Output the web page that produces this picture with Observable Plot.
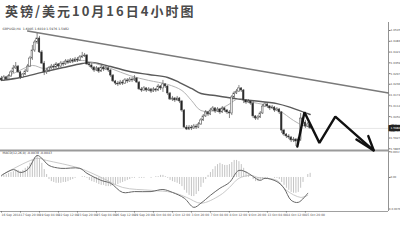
<!DOCTYPE html>
<html>
<head>
<meta charset="utf-8">
<script src="https://cdn.jsdelivr.net/npm/d3@7"></script>
<script src="https://cdn.jsdelivr.net/npm/@observablehq/plot@0.6"></script>
<style>
  html, body { margin: 0; padding: 0; background: #fff; }
  #chart { position: relative; width: 400px; height: 246px; overflow: hidden; background: #fff; }
  #title { position: absolute; left: 5px; top: 0; height: 22px; line-height: 22px;
           font-family: "Noto Sans CJK SC"; font-size: 13px; font-weight: 700;
           letter-spacing: 2px; color: #4a4a4a; white-space: nowrap; }
  #price { position: absolute; left: 0; top: 22px; z-index: 2; }
  #macd { position: absolute; left: 0; top: 149px; z-index: 1; }
</style>
</head>
<body>
<div id="chart">
  <div id="title">英镑/美元10月16日4小时图</div>
  <div id="price"></div>
  <div id="macd"></div>
</div>
<script>
// GBPUSD H4 candles, 16 Sep 12:00 – 16 Oct 04:00 (bar index = position in the arrays)
const opens = [
  1.6269,1.6258,1.6275,1.6263,1.6281,1.6304,1.6327,1.6338,1.6304,1.6275,
  1.6292,1.6309,1.6338,1.6384,1.6430,1.6476,1.6499,1.6419,1.6355,1.6304,
  1.6315,1.6327,1.6338,1.6332,1.6350,1.6338,1.6355,1.6350,1.6367,1.6361,
  1.6373,1.6367,1.6378,1.6373,1.6390,1.6396,1.6401,1.6350,1.6344,1.6332,
  1.6315,1.6327,1.6309,1.6332,1.6321,1.6327,1.6315,1.6286,1.6252,1.6240,
  1.6235,1.6246,1.6240,1.6258,1.6252,1.6263,1.6258,1.6269,1.6246,1.6206,
  1.6200,1.6212,1.6200,1.6206,1.6194,1.6206,1.6200,1.6223,1.6212,1.6235,
  1.6223,1.6183,1.6148,1.6154,1.6143,1.6154,1.6137,1.6085,1.5987,1.5976,
  1.5987,1.5982,1.5993,1.5987,1.6005,1.6028,1.6051,1.6074,1.6062,1.6085,
  1.6097,1.6079,1.6091,1.6074,1.6097,1.6085,1.6074,1.6068,1.6160,1.6183,
  1.6194,1.6212,1.6200,1.6143,1.6131,1.6137,1.6125,1.6051,1.6039,1.6045,
  1.6068,1.6108,1.6120,1.6108,1.6097,1.6102,1.6085,1.6091,1.6074,1.5970,
  1.5947,1.5936,1.5930,1.5913,1.5918,1.5907,1.5918,1.6039,1.6016,1.5993,
  1.6005
];
const highs = [
  1.6281,1.6286,1.6281,1.6292,1.6315,1.6344,1.6361,1.6344,1.6309,1.6298,
  1.6321,1.6350,1.6396,1.6459,1.6488,1.6528,1.6511,1.6430,1.6367,1.6327,
  1.6338,1.6350,1.6350,1.6361,1.6355,1.6367,1.6367,1.6378,1.6378,1.6384,
  1.6384,1.6390,1.6390,1.6401,1.6419,1.6413,1.6407,1.6361,1.6355,1.6338,
  1.6338,1.6332,1.6344,1.6338,1.6338,1.6338,1.6321,1.6292,1.6258,1.6252,
  1.6258,1.6258,1.6269,1.6269,1.6275,1.6275,1.6286,1.6275,1.6252,1.6217,
  1.6223,1.6217,1.6217,1.6212,1.6217,1.6212,1.6235,1.6229,1.6258,1.6240,
  1.6229,1.6189,1.6166,1.6160,1.6166,1.6160,1.6143,1.6091,1.5999,1.5999,
  1.5999,1.6005,1.6005,1.6016,1.6039,1.6062,1.6085,1.6079,1.6097,1.6108,
  1.6102,1.6102,1.6097,1.6108,1.6102,1.6091,1.6085,1.6171,1.6194,1.6206,
  1.6229,1.6217,1.6206,1.6148,1.6148,1.6143,1.6137,1.6056,1.6056,1.6079,
  1.6120,1.6131,1.6125,1.6114,1.6114,1.6108,1.6102,1.6097,1.6079,1.5976,
  1.5953,1.5947,1.5936,1.5930,1.5924,1.5930,1.6068,1.6045,1.6028,1.6016,
  1.6010
];
const lows = [
  1.6252,1.6252,1.6258,1.6258,1.6275,1.6298,1.6321,1.6298,1.6263,1.6269,
  1.6286,1.6304,1.6332,1.6373,1.6419,1.6465,1.6413,1.6350,1.6286,1.6292,
  1.6304,1.6321,1.6321,1.6327,1.6327,1.6332,1.6338,1.6344,1.6350,1.6355,
  1.6355,1.6361,1.6361,1.6367,1.6384,1.6390,1.6344,1.6332,1.6321,1.6304,
  1.6309,1.6298,1.6304,1.6309,1.6315,1.6304,1.6275,1.6246,1.6229,1.6223,
  1.6229,1.6229,1.6235,1.6240,1.6246,1.6246,1.6252,1.6240,1.6200,1.6189,
  1.6194,1.6189,1.6194,1.6183,1.6189,1.6189,1.6194,1.6200,1.6189,1.6212,
  1.6171,1.6143,1.6137,1.6131,1.6137,1.6125,1.6074,1.5982,1.5970,1.5970,
  1.5970,1.5976,1.5976,1.5982,1.5999,1.6022,1.6045,1.6051,1.6056,1.6079,
  1.6068,1.6074,1.6062,1.6068,1.6074,1.6062,1.6039,1.6056,1.6154,1.6177,
  1.6189,1.6189,1.6125,1.6120,1.6125,1.6114,1.6039,1.6028,1.6028,1.6039,
  1.6062,1.6102,1.6097,1.6085,1.6091,1.6074,1.6079,1.6062,1.5953,1.5936,
  1.5924,1.5918,1.5901,1.5901,1.5878,1.5895,1.5907,1.6005,1.5982,1.5987,
  1.5976
];
const closes = [
  1.6258,1.6275,1.6263,1.6281,1.6304,1.6327,1.6338,1.6304,1.6275,1.6292,
  1.6309,1.6338,1.6384,1.6430,1.6476,1.6499,1.6419,1.6355,1.6304,1.6315,
  1.6327,1.6338,1.6332,1.6350,1.6338,1.6355,1.6350,1.6367,1.6361,1.6373,
  1.6367,1.6378,1.6373,1.6390,1.6396,1.6401,1.6350,1.6344,1.6332,1.6315,
  1.6327,1.6309,1.6332,1.6321,1.6327,1.6315,1.6286,1.6252,1.6240,1.6235,
  1.6246,1.6240,1.6258,1.6252,1.6263,1.6258,1.6269,1.6246,1.6206,1.6200,
  1.6212,1.6200,1.6206,1.6194,1.6206,1.6200,1.6223,1.6212,1.6235,1.6223,
  1.6183,1.6148,1.6154,1.6143,1.6154,1.6137,1.6085,1.5987,1.5976,1.5987,
  1.5982,1.5993,1.5987,1.6005,1.6028,1.6051,1.6074,1.6062,1.6085,1.6097,
  1.6079,1.6091,1.6074,1.6097,1.6085,1.6074,1.6068,1.6160,1.6183,1.6194,
  1.6212,1.6200,1.6143,1.6131,1.6137,1.6125,1.6051,1.6039,1.6045,1.6068,
  1.6108,1.6120,1.6108,1.6097,1.6102,1.6085,1.6091,1.6074,1.5970,1.5947,
  1.5936,1.5930,1.5913,1.5918,1.5907,1.5918,1.6039,1.6016,1.5993,1.6005,
  1.5982
];

// Moving averages, [bar, price]
const slowMA = [[0,1.6258],[8,1.6275],[17,1.6304],[26,1.6332],[34,1.6355],[38,1.6361],[46,1.6338],
  [54,1.6309],[62,1.6292],[70,1.6275],[75,1.6246],[80,1.6212],[84,1.6183],[90,1.6171],[98,1.6154],
  [105,1.6143],[116,1.6125],[122,1.6102],[130,1.6062]];
const fastMA = [[0,1.6269],[6,1.6304],[13,1.6344],[18,1.6327],[28,1.6361],[34,1.6373],[38,1.6361],
  [46,1.6327],[54,1.6286],[62,1.6258],[70,1.6235],[76,1.6200],[80,1.6143],[84,1.6085],[90,1.6085],
  [95,1.6114],[100,1.6154],[104,1.6137],[112,1.6114],[117,1.6085],[123,1.6028],[127,1.5999],[130,1.5993]];

// Descending resistance line and the projected zig-zag path
const trendLine = [[11,1.6542],[163,1.6186]];
const forecast = [[124.6,1.5878],[127.6,1.6075],[133.9,1.5899],[140.6,1.6050],[156.8,1.5855]];
const arrowHead = [[149.5,1.5918],[156.8,1.5855],[154.5,1.5938]];

// Price axis
const priceDomain = [1.5865, 1.6545];
const priceTicks = [1.6545,1.6483,1.6421,1.6359,1.6297,1.6236,1.6174,1.6112,1.6050,1.5927,1.5865];
const lastBar = 163;

// MACD(12,26,9) panel
const macdHist = [
  0.0002,0.0005,0.0007,0.0010,0.0012,0.0014,0.0017,0.0017,0.0014,0.0017,
  0.0022,0.0026,0.0034,0.0041,0.0048,0.0053,0.0046,0.0034,0.0019,0.0007,
  -0.0005,-0.0010,-0.0012,-0.0014,-0.0014,-0.0014,-0.0012,-0.0012,-0.0010,-0.0007,
  -0.0005,-0.0002,0,0,0.0002,0.0002,-0.0002,-0.0007,-0.0010,-0.0012,
  -0.0014,-0.0017,-0.0019,-0.0019,-0.0022,-0.0022,-0.0022,-0.0019,-0.0019,-0.0017,
  -0.0014,-0.0012,-0.0010,-0.0007,-0.0005,-0.0002,-0.0002,0,-0.0002,-0.0002,
  -0.0002,0,0,-0.0002,0,0.0002,0.0002,0.0005,0.0005,0.0002,
  -0.0002,-0.0007,-0.0010,-0.0012,-0.0014,-0.0017,-0.0022,-0.0031,-0.0038,-0.0043,
  -0.0046,-0.0046,-0.0041,-0.0034,-0.0024,-0.0014,-0.0005,0.0005,0.0012,0.0019,
  0.0026,0.0031,0.0034,0.0031,0.0029,0.0029,0.0031,0.0036,0.0041,0.0041,
  0.0038,0.0031,0.0022,0.0014,0.0007,0,-0.0005,-0.0010,-0.0010,-0.0007,
  -0.0005,-0.0002,-0.0002,0,0,-0.0002,-0.0002,-0.0005,-0.0012,-0.0019,
  -0.0026,-0.0031,-0.0036,-0.0038,-0.0038,-0.0036,-0.0026,-0.0012,0,0.0007,
  0.0010
];
const macdLine = [[0,0.0005],[5,0.0019],[8,0.0012],[11,0.0019],[15,0.0053],[17,0.0046],[20,0.0029],
  [25,0.0022],[33,0.0022],[36,0.0010],[42,-0.0007],[46,-0.0014],[51,-0.0036],[56,-0.0034],[63,-0.0034],
  [68,-0.0029],[72,-0.0036],[77,-0.0050],[81,-0.0072],[84,-0.0062],[88,-0.0043],[92,-0.0026],
  [96,-0.0012],[100,0.0017],[104,0.0010],[107,-0.0002],[109,-0.0007],[111,-0.0002],[116,-0.0010],
  [119,-0.0026],[122,-0.0055],[125,-0.0060],[129,-0.0038]];
const signalLine = [[0,0.0005],[15,0.0046],[19,0.0041],[33,0.0022],[42,0],[51,-0.0024],[63,-0.0031],
  [72,-0.0036],[78,-0.0048],[84,-0.0062],[92,-0.0043],[96,-0.0024],[100,-0.0002],[105,0.0005],
  [108,0],[116,-0.0007],[120,-0.0031],[126,-0.0048],[129,-0.0043]];
const macdDomain = [-0.0082, 0.0065];
const macdTicks = [0.0062, 0, -0.0076];
const macdTickLabels = ["0.0062", "0.00", "-0.0076"];

// Time axis labels, one every 8 bars
const dateTicks = [0,8,16,24,32,40,48,56,64,72,80,88,96,104,112,120,128];
const dateLabels = ["16 Sep 2014","17 Sep 20:00","19 Sep 04:00","22 Sep 12:00","23 Sep 20:00",
  "25 Sep 04:00","26 Sep 12:00","29 Sep 20:00","1 Oct 04:00","2 Oct 12:00","3 Oct 20:00",
  "7 Oct 04:00","8 Oct 12:00","9 Oct 20:00","13 Oct 04:00","14 Oct 12:00","15 Oct 20:00"];

const bars = d3.range(closes.length);
const n = closes.length - 1;
const lastClose = closes[n];
const header = `GBPUSD,H4  ${opens[n].toFixed(4)} ${highs[n].toFixed(4)} ${lows[n].toFixed(4)} ${closes[n].toFixed(4)}`;
const xScale = {domain: [0, lastBar], range: [1, 388], axis: null};
const font = "DejaVu Sans";

const priceChart = Plot.plot({
  width: 400, height: 128,
  marginLeft: 0, marginRight: 12, marginTop: 0, marginBottom: 0,
  style: {background: "transparent", overflow: "visible", fontFamily: font},
  x: xScale,
  y: {domain: priceDomain, range: [126.3, 8], axis: null},
  marks: [
    Plot.ruleY([lastClose], {stroke: "#e4e4e4", strokeWidth: 0.9}),
    Plot.line(trendLine, {x: d => d[0], y: d => d[1], stroke: "#7a7a7a", strokeWidth: 1.4}),
    Plot.line(slowMA, {x: d => d[0], y: d => d[1], curve: "catmull-rom", stroke: "#5a5a5a", strokeWidth: 1.4}),
    Plot.line(fastMA, {x: d => d[0], y: d => d[1], curve: "catmull-rom", stroke: "#aaa", strokeWidth: 0.9}),
    Plot.ruleX(bars, {x: i => i, y1: i => lows[i], y2: i => highs[i], stroke: "#555", strokeWidth: 0.7}),
    Plot.rect(bars, {
      x1: i => i - 0.34, x2: i => i + 0.34,
      y1: i => opens[i], y2: i => closes[i],
      fill: i => closes[i] < opens[i] ? "#222" : "#fff",
      stroke: "#444", strokeWidth: 0.5
    }),
    Plot.ruleX([lastBar], {stroke: "#777", strokeWidth: 0.8}),
    Plot.axisY(priceTicks, {anchor: "right", tickSize: 1.5, tickPadding: 0.5, fontSize: 2.8,
      fill: "#555", stroke: "#777", tickFormat: d => d.toFixed(4)}),
    Plot.text([lastClose], {x: lastBar, y: d => d, text: d => d.toFixed(4), dx: 2, textAnchor: "start",
      fontSize: 2.8, fill: "#fff", stroke: "#222", strokeWidth: 4.5, strokeLinejoin: "miter"}),
    Plot.text([header], {frameAnchor: "top-left", dx: 2, dy: 5, fontSize: 3.1, fill: "#444"}),
    Plot.line(forecast, {x: d => d[0], y: d => d[1], stroke: "#111", strokeWidth: 2.4, strokeLinejoin: "miter"}),
    Plot.line(arrowHead, {x: d => d[0], y: d => d[1], stroke: "#111", strokeWidth: 2.4, strokeLinejoin: "miter"})
  ]
});
document.getElementById("price").append(priceChart);

const macdChart = Plot.plot({
  width: 400, height: 97,
  marginLeft: 0, marginRight: 12, marginTop: 0, marginBottom: 35,
  style: {background: "transparent", overflow: "visible", fontFamily: font},
  x: xScale,
  y: {domain: macdDomain, range: [62, 1], axis: null},
  marks: [
    Plot.ruleY([macdDomain[1]], {stroke: "#9a9a9a", strokeWidth: 2}),
    Plot.ruleY([macdDomain[0]], {stroke: "#888", strokeWidth: 0.8}),
    Plot.ruleX(bars, {x: i => i, y1: 0, y2: i => macdHist[i], stroke: "#aaa", strokeWidth: 0.7}),
    Plot.line(signalLine, {x: d => d[0], y: d => d[1], curve: "catmull-rom", stroke: "#bbb", strokeWidth: 0.8}),
    Plot.line(macdLine, {x: d => d[0], y: d => d[1], curve: "catmull-rom", stroke: "#666", strokeWidth: 1}),
    Plot.ruleX([lastBar], {y1: macdDomain[0], y2: macdDomain[1], stroke: "#777", strokeWidth: 0.8}),
    Plot.axisY(macdTicks, {anchor: "right", tickSize: 1.5, tickPadding: 0.5, fontSize: 2.6,
      fill: "#555", stroke: "#777", tickFormat: d => macdTickLabels[macdTicks.indexOf(d)]}),
    Plot.axisX(dateTicks, {anchor: "bottom", tickSize: 1.5, tickPadding: 1, fontSize: 3, textAnchor: "start",
      fill: "#555", stroke: "#777", tickFormat: d => dateLabels[dateTicks.indexOf(d)]}),
    Plot.text([`MACD(12,26,9) ${macdLine[macdLine.length - 1][1].toFixed(4)} ${signalLine[signalLine.length - 1][1].toFixed(4)}`],
      {frameAnchor: "top-left", dx: 2, dy: 2.5, fontSize: 3.1, fill: "#444"})
  ]
});
document.getElementById("macd").append(macdChart);
</script>
</body>
</html>
